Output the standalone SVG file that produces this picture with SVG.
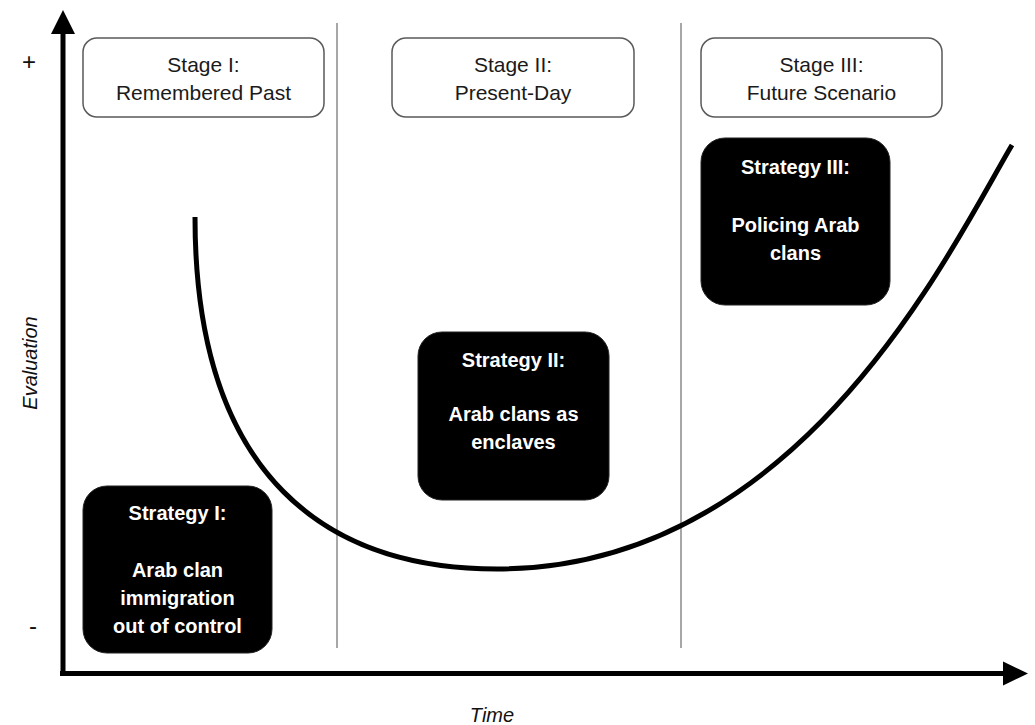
<svg xmlns="http://www.w3.org/2000/svg" width="1035" height="725" viewBox="0 0 1035 725">
  <style>
    .stage rect { fill: #ffffff; stroke: #5a5a5a; stroke-width: 1.5; }
    .stage text { font-family: "Liberation Sans", Arial, sans-serif; font-size: 21px; fill: #1a1a1a; text-anchor: middle; }
    .strat rect { fill: #000000; stroke: #222; stroke-width: 1; }
    .strat text { font-family: "Liberation Sans", Arial, sans-serif; font-size: 20px; font-weight: bold; fill: #ffffff; text-anchor: middle; }
    .divider { stroke: #8a8a8a; stroke-width: 1.5; }
    .axis { stroke: #000; stroke-width: 5; fill: none; }
    .curve { stroke: #000; stroke-width: 5; fill: none; stroke-linecap: butt; }
    .lbl { font-family: "Liberation Sans", Arial, sans-serif; fill: #111; }
  </style>

  <rect width="1035" height="725" fill="#ffffff"/>

  <g id="dividers">
    <line class="divider" x1="337" y1="23" x2="337" y2="648"/>
    <line class="divider" x1="681" y1="23" x2="681" y2="648"/>
  </g>

  <g id="connectors">
    <line class="axis" x1="63" y1="676" x2="63" y2="30"/>
    <polygon points="63,10 51,34 75,34" fill="#000"/>
    <line class="axis" x1="60" y1="673.5" x2="1006" y2="673.5"/>
    <polygon points="1028,673.5 1003,661.5 1003,685.5" fill="#000"/>
    <path class="curve" d="M195,217 C195,480 330,569 497,569 C800,569 950,250 1012,145"/>
  </g>

  <g id="axis-labels">
    <text class="lbl" x="29" y="70" font-size="24" text-anchor="middle">+</text>
    <text class="lbl" x="33" y="634" font-size="24" text-anchor="middle">-</text>
    <text class="lbl" x="0" y="0" font-size="20" font-style="italic" text-anchor="middle" transform="translate(37,363) rotate(-90)">Evaluation</text>
    <text class="lbl" x="492" y="722" font-size="20" font-style="italic" text-anchor="middle">Time</text>
  </g>

  <g id="stage1" class="stage">
    <rect x="83" y="38" width="241" height="79" rx="14"/>
    <text x="203.5" y="72">Stage I:</text>
    <text x="203.5" y="100">Remembered Past</text>
  </g>
  <g id="stage2" class="stage">
    <rect x="392" y="38" width="242" height="79" rx="14"/>
    <text x="513" y="72">Stage II:</text>
    <text x="513" y="100">Present-Day</text>
  </g>
  <g id="stage3" class="stage">
    <rect x="701" y="38" width="241" height="79" rx="14"/>
    <text x="821.5" y="72">Stage III:</text>
    <text x="821.5" y="100">Future Scenario</text>
  </g>

  <g id="strategy3" class="strat">
    <rect x="701" y="138" width="189" height="167" rx="24"/>
    <text x="795.5" y="174">Strategy III:</text>
    <text x="795.5" y="232">Policing Arab</text>
    <text x="795.5" y="260">clans</text>
  </g>
  <g id="strategy2" class="strat">
    <rect x="418" y="332" width="191" height="168" rx="24"/>
    <text x="513.5" y="367">Strategy II:</text>
    <text x="513.5" y="421">Arab clans as</text>
    <text x="513.5" y="449">enclaves</text>
  </g>
  <g id="strategy1" class="strat">
    <rect x="83" y="486" width="189" height="167" rx="24"/>
    <text x="177.5" y="520">Strategy I:</text>
    <text x="177.5" y="577">Arab clan</text>
    <text x="177.5" y="605">immigration</text>
    <text x="177.5" y="633">out of control</text>
  </g>
</svg>
